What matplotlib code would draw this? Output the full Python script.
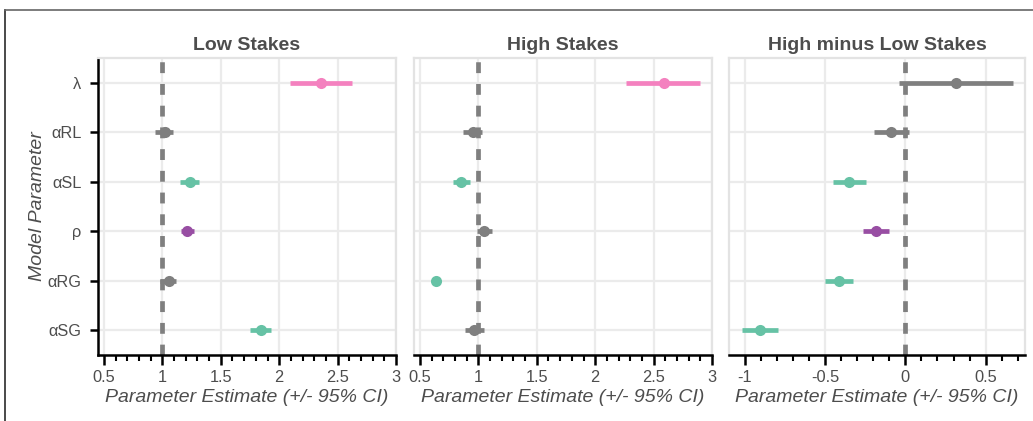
import numpy as np
import matplotlib
matplotlib.use("Agg")
import matplotlib.pyplot as plt
from matplotlib.ticker import MultipleLocator, FuncFormatter
from matplotlib.lines import Line2D

plt.rcParams['font.family'] = ['Liberation Sans', 'DejaVu Sans']
plt.rcParams['axes.unicode_minus'] = False

params = ['λ', 'αRL', 'αSL', 'ρ', 'αRG', 'αSG']
titles = ['Low Stakes', 'High Stakes', 'High minus Low Stakes']

low_est = [2.36, 1.02, 1.24, 1.215, 1.055, 1.843]
low_lo = [2.09, 0.94, 1.155, 1.163, 0.98, 1.748]
low_hi = [2.62, 1.095, 1.314, 1.27, 1.114, 1.934]

high_est = [2.585, 0.952, 0.851, 1.051, 0.634, 0.96]
high_lo = [2.265, 0.866, 0.78, 0.991, 0.62, 0.885]
high_hi = [2.90, 1.034, 0.931, 1.12, 0.648, 1.051]

diff_est = [0.3125, -0.089, -0.348, -0.185, -0.412, -0.904]
diff_lo = [-0.041, -0.196, -0.452, -0.264, -0.50, -1.019]
diff_hi = [0.669, 0.021, -0.248, -0.104, -0.325, -0.79]

PINK, GRAY, TEAL, PURPLE = '#f481bf', '#7f7f7f', '#66c2a5', '#984ea3'
low_col = [PINK, GRAY, TEAL, PURPLE, GRAY, TEAL]
high_col = [PINK, GRAY, TEAL, GRAY, TEAL, GRAY]
diff_col = [GRAY, GRAY, TEAL, PURPLE, TEAL, TEAL]

ref_lines = [1, 1, 0]
xlims = [(0.449, 3.0), (0.449, 3.0), (-1.098, 0.745)]

W, H = 1033, 421
fig = plt.figure(figsize=(W / 100, H / 100), dpi=100)

# outer frame (partly cropped in the original)
fig.add_artist(Line2D([5 / W, 5 / W], [0, (H - 9.5) / H], color='#2a2a2a', lw=1.2))
fig.add_artist(Line2D([5 / W, 1], [(H - 9.5) / H] * 2, color='#666666', lw=1.2))

lefts = [98, 414, 729]
widths = [298, 298, 296]
top, bottom = 58, 355
data = [(low_est, low_lo, low_hi, low_col),
        (high_est, high_lo, high_hi, high_col),
        (diff_est, diff_lo, diff_hi, diff_col)]

ypos = np.arange(1, len(params) + 1)
txt = '#4d4d4d'

for i in range(3):
    ax = fig.add_axes([lefts[i] / W, (H - bottom) / H, widths[i] / W, (bottom - top) / H])
    est, lo, hi, col = data[i]
    ax.set_xlim(*xlims[i])
    ax.set_ylim(6.5, 0.5)
    ax.xaxis.set_major_locator(MultipleLocator(0.5))
    ax.xaxis.set_minor_locator(MultipleLocator(0.1))
    ax.xaxis.set_major_formatter(FuncFormatter(lambda v, p: '%g' % round(v, 2)))
    ax.set_yticks(ypos)
    ax.grid(True, which='major', color='#ebebeb', lw=1.6, zorder=0)
    ax.set_axisbelow(True)
    for s in ['top', 'right', 'left']:
        ax.spines[s].set_color('#e3e3e3')
        ax.spines[s].set_linewidth(1.6)
    ax.spines['bottom'].set_color('black')
    ax.spines['bottom'].set_linewidth(1.8)
    ax.tick_params(axis='x', which='major', length=7, width=1.8, color='black',
                   labelsize=11.8, labelcolor=txt, pad=4)
    ax.tick_params(axis='x', which='minor', length=4.5, width=1.5, color='black')
    if i == 0:
        ax.spines['left'].set_color('black')
        ax.spines['left'].set_linewidth(1.8)
        ax.set_yticklabels(params)
        ax.tick_params(axis='y', length=6, width=1.8, color='black',
                       labelsize=11.8, labelcolor=txt, pad=6)
        ax.set_ylabel('Model Parameter', fontsize=14, style='italic', color=txt, labelpad=1)
    else:
        ax.set_yticklabels([])
        ax.tick_params(axis='y', length=0)

    ax.axvline(ref_lines[i], color='#7f7f7f', lw=3.4, ls=(0, (2.3, 2.3)), zorder=2)
    for y, e, l, h, c in zip(ypos, est, lo, hi, col):
        ax.plot([l, h], [y, y], color=c, lw=3.4, solid_capstyle='butt', zorder=3)
        ax.plot(e, y, 'o', color=c, ms=8, mec='none', zorder=4)

    ax.set_title(titles[i], fontsize=14, fontweight='bold', color=txt, pad=6)
    ax.set_xlabel('Parameter Estimate (+/- 95% CI)', fontsize=14, style='italic',
                  color=txt, labelpad=3)

fig.savefig('out.png', dpi=100)
